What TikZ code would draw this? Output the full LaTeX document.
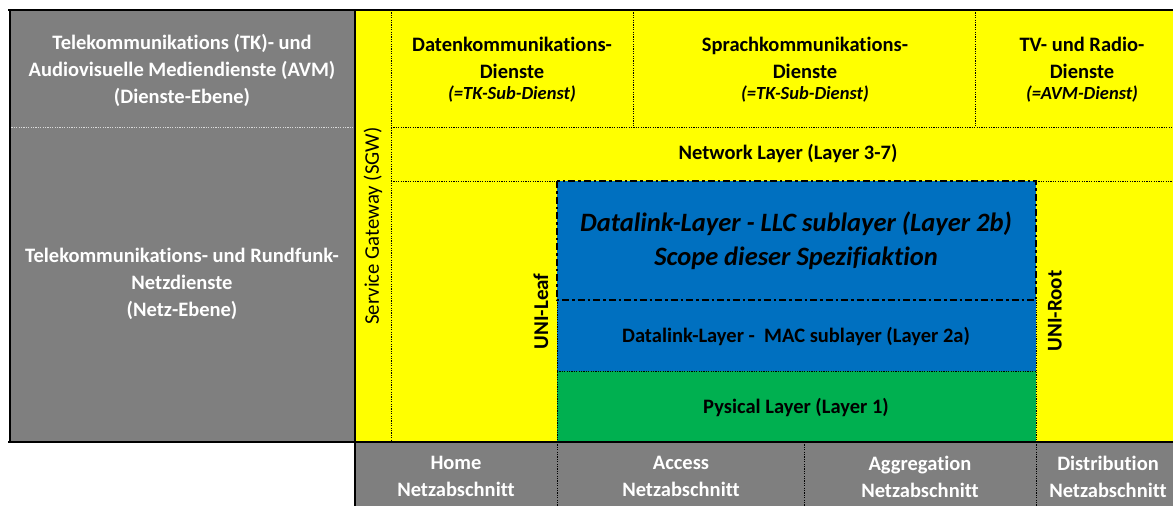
\documentclass[tikz,border=0pt]{standalone}
\usepackage{fontspec}
\setmainfont{Carlito}[Ligatures={NoCommon}]
\definecolor{cgrey}{HTML}{7F7F7F}
\definecolor{cyel}{HTML}{FFFF00}
\definecolor{cblue}{HTML}{0070C0}
\definecolor{cgreen}{HTML}{00B050}
\tikzset{
  lbl/.style={inner sep=0pt, outer sep=0pt, align=center, font=\bfseries\fontsize{20.5}{27}\selectfont},
  wlbl/.style={lbl, text=white},
  sublbl/.style={inner sep=0pt, align=center, font=\bfseries\itshape\fontsize{18.5}{21}\selectfont},
  biglbl/.style={inner sep=0pt, align=center, font=\bfseries\itshape\fontsize{26.5}{34}\selectfont},
  sgwlbl/.style={inner sep=0pt, rotate=90, font=\fontsize{20.8}{24}\selectfont},
  unilbl/.style={inner sep=0pt, rotate=90, font=\bfseries\fontsize{21}{24}\selectfont},
  dotline/.style={line width=0.9pt, dash pattern=on 1.2pt off 1.2pt},
  thickline/.style={line width=2pt, black},
  scopeline/.style={line width=2pt, dash pattern=on 7pt off 3pt on 2.5pt off 3pt}
}
\begin{document}
\begin{tikzpicture}[x=1pt,y=-1pt]
\useasboundingbox (0,0) rectangle (1173,506);
\clip (0,0) rectangle (1173,506);
\fill[white] (0,0) rectangle (1173,506);
% fills
\fill[cgrey] (9,9) rectangle (355,442);
\fill[cyel] (355,9) rectangle (1195,442);
\fill[cblue] (557,181) rectangle (1036,371);
\fill[cgreen] (557,371) rectangle (1036,441);
\fill[cgrey] (355,442) rectangle (1195,506);
% dotted grid
\draw[dotline, white!85!black] (9,127) -- (354,127);
\draw[dotline] (391,10) -- (391,441);
\draw[dotline] (391,127) -- (1173,127);
\draw[dotline] (633,10) -- (633,127);
\draw[dotline] (975,10) -- (975,127);
\draw[dotline] (391,181) -- (557,181);
\draw[dotline] (1036,181) -- (1173,181);
\draw[dotline] (557,371) -- (1036,371);
\draw[dotline] (557,300) -- (557,441);
\draw[dotline] (1036,300) -- (1036,441);
\draw[dotline] (557,442) -- (557,506);
\draw[dotline] (804,442) -- (804,506);
\draw[dotline] (1036,442) -- (1036,506);
% scope box
\draw[scopeline] (557,181) rectangle (1036,300);
% thick borders
\draw[thickline] (8,9.5) -- (1173,9.5);
\draw[thickline] (9.5,9) -- (9.5,442);
\draw[thickline] (8,441.5) -- (1173,441.5);
\draw[thickline] (354.5,9) -- (354.5,506);
% texts left
\node[wlbl] (dienste) at (182,70) {Telekommunikations (TK)- und\\Audiovisuelle Mediendienste (AVM)\\(Dienste-Ebene)};
\node[wlbl] (netz) at (182,284) {Telekommunikations- und Rundfunk-\\Netzdienste\\(Netz-Ebene)};
% top row
\node[lbl] (daten) at (512,57.5) {Datenkommunikations-\\Dienste};
\node[sublbl] (datensub) at (512,94) {(=TK-Sub-Dienst)};
\node[lbl] (sprache) at (805,57.5) {Sprachkommunikations-\\Dienste};
\node[sublbl] (sprachesub) at (805,94) {(=TK-Sub-Dienst)};
\node[lbl] (tv) at (1082,57.5) {TV- und Radio-\\Dienste};
\node[sublbl] (tvsub) at (1082,94) {(=AVM-Dienst)};
% layers
\node[lbl] (network) at (788,154) {Network Layer (Layer 3-7)};
\node[biglbl] (llc) at (796,241) {Datalink-Layer - LLC sublayer (Layer 2b)\\Scope dieser Spezifiaktion};
\node[lbl] (mac) at (796,336) {Datalink-Layer -\ \ MAC sublayer (Layer 2a)};
\node[lbl] (phy) at (796,407) {Pysical Layer (Layer 1)};
% vertical labels
\node[sgwlbl] (sgw) at (373,226) {Service Gateway (SGW)};
\node[unilbl] (leaf) at (541,311.5) {UNI-Leaf};
\node[unilbl] (root) at (1055,311) {UNI-Root};
% bottom row
\node[wlbl] (home) at (456,476.5) {Home\\Netzabschnitt};
\node[wlbl] (access) at (681,476.5) {Access\\Netzabschnitt};
\node[wlbl] (aggr) at (920,476.5) {Aggregation\\Netzabschnitt};
\node[wlbl] (distr) at (1108,476.5) {Distribution\\Netzabschnitt};
\end{tikzpicture}
\end{document}
